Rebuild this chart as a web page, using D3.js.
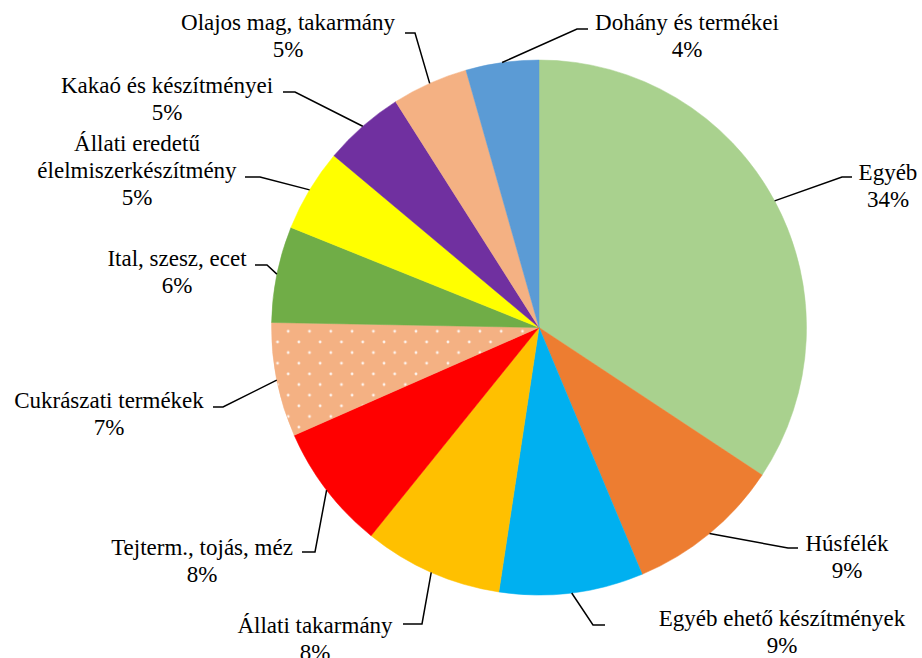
<!DOCTYPE html>
<html>
<head>
<meta charset="utf-8">
<script src="https://cdnjs.cloudflare.com/ajax/libs/d3/7.8.5/d3.min.js"></script>
<style>
  body { margin: 0; background: #fff; }
</style>
</head>
<body>
<div class="main"></div>
<script>
// categories, clockwise from 12 o'clock
var categories = ["Egyéb", "Húsfélék", "Egyéb ehető készítmények", "Állati takarmány",
  "Tejterm., tojás, méz", "Cukrászati termékek", "Ital, szesz, ecet",
  "Állati eredetű\nélelmiszerkészítmény", "Kakaó és készítményei",
  "Olajos mag, takarmány", "Dohány és termékei"];
// shares in percent
var shares = [34.3, 9.4, 8.7, 8.4, 7.6, 6.9, 5.8, 5.0, 4.9, 4.6, 4.4];

var colors = ["#A9D18E", "#ED7D31", "#00B0F0", "#FFC000", "#FF0000", "url(#dots)",
  "#70AD47", "#FFFF00", "#7030A0", "#F4B183", "#5B9BD5"];

// label layout: text centre of first line, elbow of leader, end of leader
var labelText = [[888, 172], [847, 543], [782, 618], [315, 625], [202, 547], [109, 400],
  [177, 258], [137, 143], [167, 85], [288, 22], [687, 22]];
var labelElbow = [[842, 177], [788, 548], [593, 625], [422, 624], [315, 552], [223, 407],
  [267, 265], [260, 177], [295, 92], [415, 33], [577, 29]];
var labelEnd = [[852, 177], [798, 548], [605, 625], [403, 624], [302, 552], [213, 407],
  [255, 265], [245, 177], [283, 92], [405, 33], [588, 29]];

var width = 922, height = 658;
var cx = 539, cy = 327.5, radius = 267.5;
var lineGap = 27;
var fontFam = "'Liberation Serif', 'Times New Roman', Times, 'DejaVu Serif', serif";

var svg = d3.select("div.main").append("svg")
  .attr("width", width)
  .attr("height", height);

svg.append("rect").attr("width", width).attr("height", height).attr("fill", "#fff");

// dotted fill for Cukrászati termékek
var pat = svg.append("defs").append("pattern")
  .attr("id", "dots")
  .attr("patternUnits", "userSpaceOnUse")
  .attr("x", 281.7).attr("y", 323.3)
  .attr("width", 21.3).attr("height", 21.3);
pat.append("rect").attr("width", 21.3).attr("height", 21.3).attr("fill", "#F4B183");
[[0, 0], [21.3, 0], [0, 21.3], [21.3, 21.3], [10.65, 10.65]].forEach(function(p) {
  pat.append("circle").attr("cx", p[0]).attr("cy", p[1]).attr("r", 1.4)
    .attr("fill", "#fff").attr("opacity", 0.85);
});

var data = categories.map(function(c, i) { return { name: c, value: shares[i], i: i }; });

var pie = d3.pie()
  .sort(null)
  .value(function(d) { return d.value; });

var arc = d3.arc().innerRadius(0).outerRadius(radius);
var rim = d3.arc().innerRadius(radius).outerRadius(radius);

var g = svg.append("g").attr("transform", "translate(" + cx + "," + cy + ")");
var arcs = pie(data);

g.selectAll("path.slice")
  .data(arcs)
  .enter().append("path")
  .attr("class", "slice")
  .attr("d", arc)
  .attr("fill", function(d) { return colors[d.data.i]; })
  .attr("stroke", function(d) { return colors[d.data.i].indexOf("url") == 0 ? "#F4B183" : colors[d.data.i]; })
  .attr("stroke-width", 0.5);

// leader lines
svg.selectAll("polyline.leader")
  .data(arcs)
  .enter().append("polyline")
  .attr("class", "leader")
  .attr("fill", "none")
  .attr("stroke", "#000")
  .attr("stroke-width", 1.5)
  .attr("points", function(d) {
    var p = rim.centroid(d);
    var i = d.data.i;
    return [[p[0] + cx, p[1] + cy], labelElbow[i], labelEnd[i]].map(function(q) { return q.join(","); }).join(" ");
  });

// labels
var labels = svg.selectAll("text.lbl")
  .data(arcs)
  .enter().append("text")
  .attr("class", "lbl")
  .attr("font-family", fontFam)
  .attr("font-size", 23)
  .attr("fill", "#000")
  .style("font-family", fontFam)
  .attr("text-anchor", "middle");

labels.each(function(d) {
  var i = d.data.i;
  var lines = d.data.name.split("\n");
  lines.push(Math.round(d.data.value) + "%");
  var t = d3.select(this);
  lines.forEach(function(l, k) {
    t.append("tspan")
      .attr("x", labelText[i][0])
      .attr("y", labelText[i][1] + 7.5 + k * lineGap)
      .text(l);
  });
});
</script>
</body>
</html>
